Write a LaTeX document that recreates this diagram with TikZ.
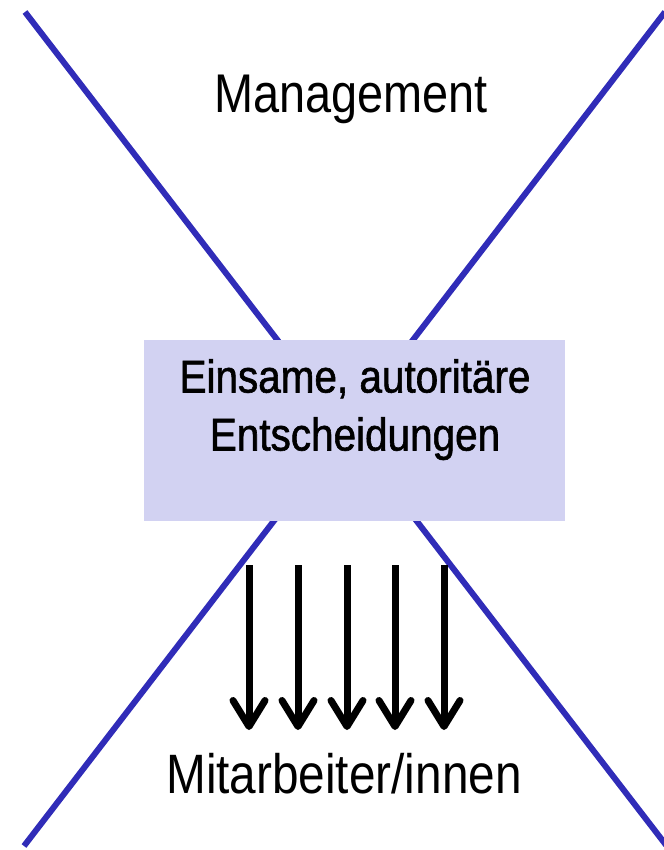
\documentclass[tikz,border=0pt]{standalone}
\usepackage{fontspec}
\setmainfont{Liberation Sans}[FakeStretch=0.86]
\newfontfamily\boxfont{Liberation Sans}[FakeStretch=0.88,FakeBold=1.3]
\usetikzlibrary{arrows.meta}
\definecolor{xblue}{RGB}{48,44,184}
\definecolor{boxfill}{RGB}{210,210,242}
\begin{document}
\begin{tikzpicture}[x=1pt,y=-1pt,
  xline/.style={draw=xblue,line width=6pt},
  boxshape/.style={fill=boxfill,draw=none,minimum width=421pt,minimum height=181pt,inner sep=0pt},
  bigtext/.style={font=\fontsize{54.5}{60}\selectfont,inner sep=0pt,anchor=base},
  boxtext/.style={font=\boxfont\fontsize{46}{58}\selectfont,inner sep=0pt,align=center,anchor=north},
  downarrow/.style={-{Straight Barb[length=26pt,width=32pt,line cap=round,line join=round]},line width=7pt}]
\useasboundingbox (0,0) rectangle (663,850);
% crossing lines
\coordinate (tl) at (25,12);
\coordinate (br) at (666,845);
\coordinate (tr) at (665,12);
\coordinate (bl) at (24,846);
\draw[xline] (tl) -- (br);
\draw[xline] (tr) -- (bl);
% central box
\node[boxshape] (box) at (354.5,430.5) {};
\node[boxtext] (boxlabel) at (355,359) {Einsame, autoritäre\\Entscheidungen};
% labels
\node[bigtext] (mgmt) at (351,113) {Management};
\node[bigtext,font=\fontsize{55.5}{60}\selectfont] (staff) at (344,793) {Mitarbeiter/innen};
% arrows
\foreach \i/\x in {1/249,2/298,3/347,4/395,5/444}{
  \coordinate (a\i) at (\x,565);
  \coordinate (b\i) at (\x,730);
  \draw[downarrow] (a\i) -- (b\i);
}
\end{tikzpicture}
\end{document}
